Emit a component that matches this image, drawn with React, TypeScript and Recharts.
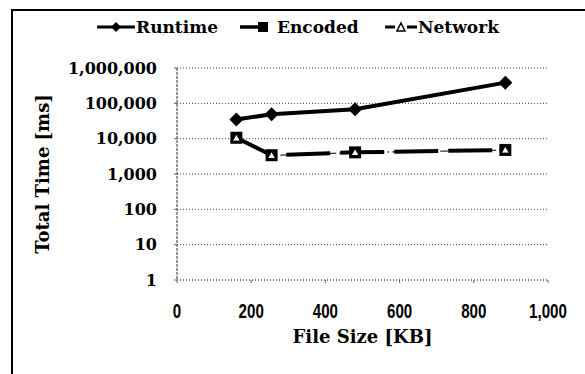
import { LineChart, Line, XAxis, YAxis, CartesianGrid } from 'recharts';

const fileSizes = [160, 255, 480, 885];
const runtime = [35000, 49000, 68000, 385000];
const encoded = [10600, 3400, 4100, 4800];
const network = [10400, 3350, 4050, 4750];

const xTicks = [0, 200, 400, 600, 800, 1000];
const yTicks = [1, 10, 100, 1000, 10000, 100000, 1000000];

const data = fileSizes.map((size, i) => ({
  size,
  runtime: runtime[i],
  encoded: encoded[i],
  network: network[i],
}));

const serif = '"DejaVu Serif", serif';
const sans = '"Liberation Sans", Arial, sans-serif';

const fmt = (v: number) => v.toLocaleString('en-US');

// narrow, tall digits like the original's axis font
function XTick(props: any) {
  const { x, y, payload } = props;
  return (
    <text transform={`translate(${x},${y}) scale(0.72,1)`} textAnchor="middle" dy="0.71em" fill="#000" fontFamily={sans} fontWeight={700} fontSize={21}>
      {fmt(payload.value)}
    </text>
  );
}

function Diamond(props: any) {
  const { cx, cy, index } = props;
  if (cx == null || cy == null) return <g key={`d${index}`} />;
  return <path key={`d${index}`} d={`M${cx},${cy - 7}L${cx + 7},${cy}L${cx},${cy + 7}L${cx - 7},${cy}Z`} fill="#000" />;
}

function Square(props: any) {
  const { cx, cy, index } = props;
  if (cx == null || cy == null) return <g key={`s${index}`} />;
  return <rect key={`s${index}`} x={cx - 6} y={cy - 6} width={12} height={12} fill="#000" />;
}

function Triangle(props: any) {
  const { cx, cy, index } = props;
  if (cx == null || cy == null) return <g key={`t${index}`} />;
  return (
    <path key={`t${index}`} d={`M${cx},${cy - 4}L${cx + 4},${cy + 3}L${cx - 4},${cy + 3}Z`} fill="#fff" stroke="#000" strokeWidth={1} />
  );
}

function LegendRow() {
  const text = { position: 'absolute', top: 0, fontFamily: serif, fontWeight: 700, fontSize: 17, lineHeight: '22px', color: '#000', whiteSpace: 'nowrap' } as const;
  const icon = { position: 'absolute', top: 4 } as const;
  return (
    <div style={{ position: 'absolute', left: 0, top: 16, width: 585, height: 22 }}>
      <svg style={{ ...icon, left: 97 }} width={38} height={14}>
        <line x1={0} y1={7} x2={38} y2={7} stroke="#000" strokeWidth={3} />
        <path d="M19,2L24,7L19,12L14,7Z" fill="#000" />
      </svg>
      <span style={{ ...text, left: 136 }}>Runtime</span>
      <svg style={{ ...icon, left: 240 }} width={32} height={14}>
        <line x1={0} y1={7} x2={20} y2={7} stroke="#000" strokeWidth={3.5} />
        <rect x={18} y={2} width={10} height={10} fill="#000" />
      </svg>
      <span style={{ ...text, left: 277 }}>Encoded</span>
      <svg style={{ ...icon, left: 385 }} width={32} height={14}>
        <line x1={0} y1={7} x2={10} y2={7} stroke="#000" strokeWidth={3} />
        <line x1={22} y1={7} x2={32} y2={7} stroke="#000" strokeWidth={3} />
        <path d="M16,3L20,11L12,11Z" fill="#fff" stroke="#000" strokeWidth={1.5} />
      </svg>
      <span style={{ ...text, left: 418 }}>Network</span>
    </div>
  );
}

export default function App() {
  return (
    <div style={{ position: 'absolute', left: 0, top: 0, width: 585, height: 374, background: '#fff' }}>
      <div style={{ position: 'absolute', left: 11, top: 9, width: 574, height: 2, background: '#000' }} />
      <div style={{ position: 'absolute', left: 11, top: 9, width: 2, height: 365, background: '#000' }} />
      <LineChart width={585} height={374} data={data} margin={{ top: 68, right: 37, bottom: 0, left: 0 }}>
        <CartesianGrid vertical={false} stroke="#444" strokeDasharray="1 2" />
        <XAxis
          dataKey="size"
          type="number"
          domain={[0, 1000]}
          ticks={xTicks}
          height={94}
          axisLine={{ stroke: '#444', strokeDasharray: '1 2' }}
          tickLine={{ stroke: '#666' }}
          tickSize={3}
          tickMargin={20}
          tick={<XTick />}
          label={{
            value: 'File Size [KB]',
            position: 'insideBottom',
            offset: 31,
            style: { fill: '#000', fontFamily: serif, fontWeight: 700, fontSize: 18, textAnchor: 'middle' },
          }}
        />
        <YAxis
          scale="log"
          domain={[1, 1000000]}
          ticks={yTicks}
          allowDataOverflow
          tickFormatter={fmt}
          width={177}
          axisLine={{ stroke: '#333', strokeDasharray: '3 1' }}
          tickLine={{ stroke: '#666' }}
          tickSize={3}
          tickMargin={17}
          tick={{ fill: '#000', fontFamily: serif, fontWeight: 700, fontSize: 16 }}
          label={{
            value: 'Total Time [ms]',
            angle: -90,
            position: 'insideLeft',
            offset: 43,
            style: { fill: '#000', fontFamily: serif, fontWeight: 700, fontSize: 18, textAnchor: 'middle' },
          }}
        />
        <Line dataKey="runtime" stroke="#000" strokeWidth={4} dot={Diamond} isAnimationActive={false} />
        <Line dataKey="encoded" stroke="#000" strokeWidth={4} strokeDasharray="44 10" dot={Square} isAnimationActive={false} />
        <Line dataKey="network" stroke="#000" strokeWidth={1} strokeDasharray="8 3 2 3" dot={Triangle} isAnimationActive={false} />
      </LineChart>
      <LegendRow />
    </div>
  );
}
